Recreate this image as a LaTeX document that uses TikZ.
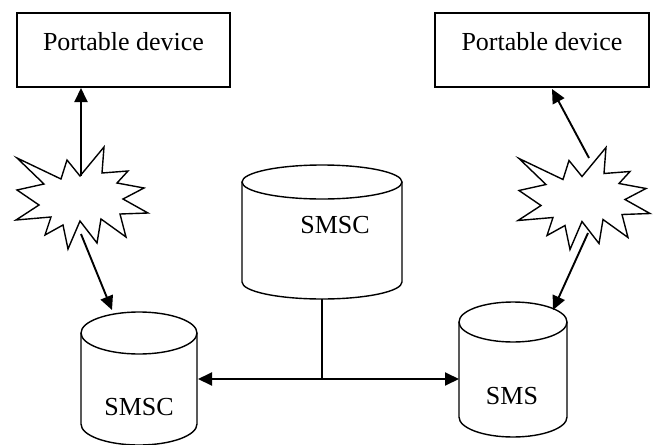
\documentclass[tikz,border=0pt]{standalone}
\usepackage{fontspec}
\setmainfont{Liberation Serif}
\usetikzlibrary{arrows.meta}

\tikzset{
  devbox/.style={draw, line width=1.9pt, inner sep=0pt},
  lbl/.style={font=\fontsize{26}{30}\selectfont, anchor=base, inner sep=0pt},
  shapeline/.style={line width=1.4pt},
  arr/.style={line width=1.9pt, -{Triangle[length=14pt,width=13pt]}},
  dblarr/.style={line width=1.9pt, {Triangle[length=14pt,width=13pt]}-{Triangle[length=14pt,width=13pt]}},
  burst/.pic={
    \draw[shapeline, line join=miter]
      (17,158) -- (61,179) -- (67,160) -- (80,176) -- (104,147) -- (102,173)
      -- (128,171) -- (117,183) -- (144,188) -- (123,199) -- (148,213)
      -- (120,214) -- (126,237) -- (101,219) -- (97,243) -- (80,221)
      -- (68,249) -- (63,225) -- (45,235) -- (51,217) -- (16,220)
      -- (39,205) -- (17,190) -- (44,184) -- cycle;
  }
}

\begin{document}
\begin{tikzpicture}[x=1pt, y=-1pt]
\useasboundingbox (0,0) rectangle (657,445);

% portable devices
\node[devbox, minimum width=213pt, minimum height=74pt] (pdL) at (123.5,50) {};
\node[lbl] (pdLtext) at (123.5,50) {Portable device};
\node[devbox, minimum width=214pt, minimum height=74pt] (pdR) at (542,50) {};
\node[lbl] (pdRtext) at (542,50) {Portable device};

% radio links
\pic at (0,0) {burst};
\pic at (502,0.5) {burst};

% central SMSC drum
\draw[shapeline] (242,182) -- (242,282)
  arc[start angle=180, end angle=360, x radius=80pt, y radius=17pt] -- (402,182);
\draw[shapeline] (322,182) ellipse [x radius=80pt, y radius=17pt];
\node[lbl] (smscM) at (335,233) {SMSC};

% left SMSC drum
\draw[shapeline] (81,333) -- (81,424)
  arc[start angle=180, end angle=360, x radius=58pt, y radius=21pt] -- (197,333);
\draw[shapeline] (139,333) ellipse [x radius=58pt, y radius=21pt];
\node[lbl] (smscL) at (139,415) {SMSC};

% right SMS drum
\draw[shapeline] (459,322) -- (459,417)
  arc[start angle=180, end angle=360, x radius=54pt, y radius=20pt] -- (567,322);
\draw[shapeline] (513,322) ellipse [x radius=54pt, y radius=20pt];
\node[lbl] (sms) at (512,404) {SMS};

% connector end points
\coordinate (burstLtop) at (81,176);
\coordinate (burstLbot) at (81,234);
\coordinate (burstRtop) at (589,158);
\coordinate (burstRbot) at (588,233);
\coordinate (pdLin) at (81,88);
\coordinate (pdRin) at (552,89);
\coordinate (smscLin) at (112,310);
\coordinate (smsIn) at (553,310);
\coordinate (smscLside) at (198,379);
\coordinate (smsSide) at (459,379);
\coordinate (smscMbase) at (322,299);
\coordinate (junction) at (322,379);

\draw[arr] (burstLtop) -- (pdLin);
\draw[arr] (burstLbot) -- (smscLin);
\draw[arr] (burstRtop) -- (pdRin);
\draw[arr] (burstRbot) -- (smsIn);
\draw[dblarr] (smscLside) -- (smsSide);
\draw[line width=1.6pt] (smscMbase) -- (junction);
\end{tikzpicture}
\end{document}
